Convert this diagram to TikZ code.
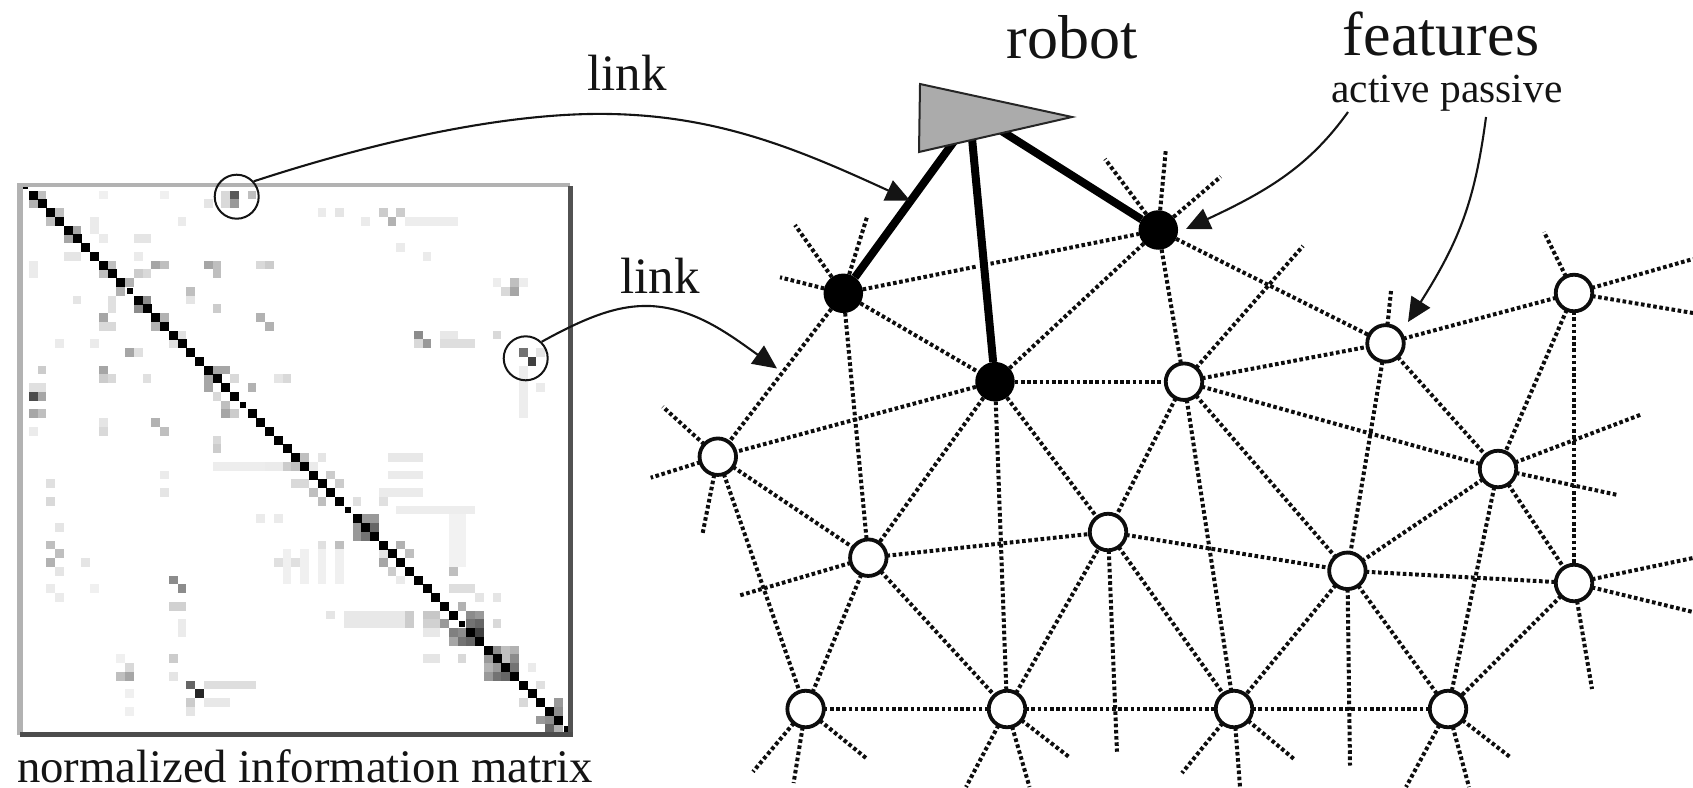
\documentclass[tikz,border=0pt]{standalone}
\usepackage{fontspec}
\setmainfont{Liberation Serif}
\usetikzlibrary{arrows.meta}
\tikzset{
  openf/.style={circle,draw=black!95,line width=3.8pt,fill=white,minimum size=36.5pt,inner sep=0pt,outer sep=0pt},
  activef/.style={circle,fill=black,minimum size=39.5pt,inner sep=0pt,outer sep=0pt},
  dotlink/.style={draw=black!95,line width=4pt,dash pattern=on 3.6pt off 2.6pt},
  robotlink/.style={draw=black,line width=8pt},
  pointer/.style={draw=black!92,line width=2.1pt,-{Triangle[length=24pt,width=22pt]}},
  ring/.style={circle,draw=black!92,line width=2pt,minimum size=44pt,inner sep=0pt},
  lab/.style={anchor=base,inner sep=0pt,text=black!92},
}
\begin{document}
\begin{tikzpicture}[x=1pt,y=-1pt]
\useasboundingbox (0,0) rectangle (1693,787);
\clip (0,0) rectangle (1693,787);
% ---------- matrix: faint ranges c1/c2/r1/r2/g
\foreach \a/\b/\p/\q/\g in {
 43/48/3/3/7, 21/26/31/31/7, 27/32/31/31/8, 41/44/30/30/9, 41/44/32/32/8, 40/44/34/34/8,
 42/50/36/36/7, 48/49/37/42/5, 29/29/41/44/6, 31/31/41/44/6, 33/33/41/44/6, 35/35/41/44/6,
 48/50/45/45/13, 36/42/48/49/9, 20/25/56/56/13, 20/22/58/58/9, 47/50/17/17/13, 47/48/16/16/9,
 56/56/20/25/7, 16/17/47/47/18, 45/46/48/48/22, 45/46/49/49/18, 45/46/50/50/9, 45/46/53/53/10,
 53/53/10/10/7, 56/56/10/10/7
}{
  \fill[black!\g] (33.3+8.75*\a-4.4,195+8.75*\p-4.4) rectangle (33.3+8.75*\b+4.4,195+8.75*\q+4.4);
}
% ---------- matrix: single cells c/r/g
\foreach \a/\p/\g in {
 0/1/30, 1/0/25, 2/3/25, 3/2/25, 4/5/35, 5/4/35, 8/9/25, 9/8/25, 10/11/30, 11/10/30, 12/13/45, 13/12/45,
 14/15/30, 15/14/30, 16/17/12, 17/16/12, 21/20/35, 22/20/35, 20/21/35, 20/22/35, 23/21/15, 25/22/30,
 22/24/25, 22/25/35, 23/25/20, 21/23/15,
 23/0/65, 23/1/40, 22/0/15, 22/1/15, 25/0/25, 20/1/10,
 14/8/35, 15/8/25, 20/8/35, 21/8/25, 21/9/25, 26/8/15, 27/8/20, 12/9/20, 13/9/15,
 8/14/35, 8/15/15, 9/15/15, 26/14/30, 27/15/30,
 1/20/20, 8/20/35, 8/21/20, 9/21/15, 13/21/12, 11/18/35, 12/18/12,
 0/23/70, 1/23/35, 0/22/12, 1/22/12, 0/25/35, 1/25/25,
 14/26/30, 15/27/25, 8/26/10, 8/27/15, 0/27/8,
 18/11/25, 18/12/10, 21/13/20, 5/12/10, 9/12/12, 9/13/12, 3/17/8, 7/17/8, 0/8/8, 0/9/8,
 7/4/8, 8/5/8, 13/5/10, 12/5/10, 4/7/10, 5/7/10, 12/7/8, 8/0/6, 15/0/6, 17/3/8, 7/3/8,
 29/21/15, 28/21/10, 21/28/15, 21/29/20,
 40/2/20, 42/2/20, 41/3/30, 33/2/8, 35/2/10, 38/3/8, 42/6/8, 45/7/8,
 55/10/25, 55/11/35, 54/11/15, 44/16/45, 45/17/40, 44/17/15, 53/16/15,
 56/18/55, 57/19/75, 58/18/10, 58/22/8,
 2/33/12, 2/35/15, 3/38/10, 2/40/25, 3/41/25, 2/42/30, 6/42/10, 3/43/10, 3/46/8, 7/45/6, 2/45/8,
 16/44/45, 17/45/45, 17/49/8, 17/50/8, 16/53/20, 16/55/10,
 11/55/35, 10/55/25, 11/54/15, 10/53/6, 11/57/6, 11/59/6,
 18/56/60, 19/57/85, 18/58/20, 18/59/10,
 15/34/10, 15/32/8, 26/37/8, 28/37/8, 28/42/12, 30/42/12,
 29/31/20, 30/31/25, 31/30/25, 33/30/10, 34/32/20, 35/33/20, 32/34/25, 33/35/25, 30/33/15, 31/33/15, 37/35/12, 40/35/12,
 38/37/40, 39/37/40, 37/38/40, 39/38/60, 37/39/40, 38/39/55,
 35/40/25, 33/40/12, 42/40/30, 43/41/25, 40/42/35, 40/41/10, 41/43/20, 42/44/8, 48/43/25,
 49/47/30, 50/48/45, 51/48/40, 50/49/55, 51/49/60, 48/50/50, 49/50/45, 51/50/75, 48/51/35, 49/51/55, 50/51/60, 47/49/40,
 43/48/20, 43/49/20, 34/48/10, 49/53/15, 53/49/15, 53/46/10, 51/46/10,
 53/52/45, 54/52/25, 55/52/30, 52/53/40, 54/53/25, 55/53/45, 52/54/30, 53/54/40, 55/54/55, 52/55/40, 53/55/55, 54/55/60,
 58/56/12, 56/58/15, 60/58/40, 60/59/45, 58/60/40, 59/60/45, 59/61/60, 60/61/30, 57/54/8
}{
  \fill[black!\g] (33.3+8.75*\a-4.4,195+8.75*\p-4.4) rectangle ++(8.8,8.8);
}
% diagonal
\foreach \i in {0,...,10,12,13,...,23,25,26,...,35,37,38,...,48,50,51,...,60}{
  \fill[black] (33.3+8.75*\i-4.5,195+8.75*\i-4.5) rectangle ++(9,9);
}
\foreach \i in {-1,11,24,36,49,61}{
  \fill[black] (33.3+8.75*\i-3,195+8.75*\i-3) rectangle ++(6,6);
}
% frame
\draw[draw=black!30,line width=6pt] (20,735) -- (20,185);
\draw[draw=black!30,line width=4.5pt] (17,185) -- (570,185);
\draw[draw=black!68,line width=5pt] (570,186) -- (570,735);
\draw[draw=black!70,line width=5pt] (20,734.5) -- (572.5,734.5);

% ---------- rings on the matrix
\node[ring] (ringA) at (236.7,196.7) {};
\node[ring] (ringB) at (525.7,358.3) {};

% ---------- network nodes
\node[activef] (A) at (843.3,293.3) {};
\node[activef] (B) at (995,381.7) {};
\node[activef] (C) at (1158.3,230) {};
\node[openf] (D) at (1184,381.7) {};
\node[openf] (E) at (717.8,456.7) {};
\node[openf] (F) at (868.3,557.7) {};
\node[openf] (G) at (805.6,709) {};
\node[openf] (H) at (1007,709) {};
\node[openf] (I) at (1108,532) {};
\node[openf] (J) at (1385.5,343.4) {};
\node[openf] (K) at (1574,293) {};
\node[openf] (L) at (1498,469) {};
\node[openf] (M) at (1347.4,570.8) {};
\node[openf] (N) at (1574,583) {};
\node[openf] (O) at (1234,709) {};
\node[openf] (P) at (1448,709) {};

% links between features
\foreach \u/\v in {A/B,A/C,A/E,A/F,B/C,B/D,B/E,B/F,B/H,B/I,C/D,C/J,D/I,D/J,D/L,D/M,D/O,
 E/F,E/G,F/G,F/H,F/I,G/H,H/I,H/O,I/M,I/O,J/K,J/L,J/M,K/L,K/N,L/M,L/N,L/P,M/N,M/O,M/P,N/P,O/P}{
  \path[dotlink] (\u) -- (\v);
}
% free ends
\foreach \n/\x/\y in {
 A/795/225, A/867.3/216, A/780/277.3,
 C/1105/159, C/1165.7/150.7, C/1220.7/176.7,
 D/1303/246,
 E/662.7/406.7, E/650.7/477.7, E/702.3/535,
 F/737.8/596,
 G/753/771.7, G/793.6/783, G/866/758,
 H/966/787, H/1029.5/787, H/1070/757.7,
 I/1117/751.7,
 J/1391/291,
 K/1544/232, K/1693/259, K/1693/313,
 L/1642.5/414, L/1617.6/495,
 M/1350/765.5,
 N/1693/558, N/1693/612, N/1592/689,
 O/1182/773, O/1240/787, O/1294/759,
 P/1406/787, P/1469/787, P/1510/757}{
  \coordinate (free) at (\x,\y);
  \path[dotlink] (\n) -- (free);
}

% ---------- robot
\coordinate (tl) at (920,84);
\coordinate (tr) at (1072,117);
\coordinate (tb) at (919,152);
\coordinate (ra) at (955,140);
\coordinate (rb) at (971.7,135);
\coordinate (rc) at (1000,130);
\path[robotlink] (ra) -- (A);
\path[robotlink,preaction={draw=white,line width=13pt,shorten >=30pt}] (rb) -- (B);
\path[robotlink] (rc) -- (C);
\filldraw[fill=black!33,draw=black!85,line width=2pt,line join=miter] (tl) -- (tr) -- (tb) -- cycle;

% ---------- pointers
\coordinate (linkmid) at (610,114);
\coordinate (tipA) at (910,200.5);
\coordinate (linkmidb) at (650,306);
\coordinate (tipB) at (777,368.5);
\coordinate (srcC) at (1348,112);
\coordinate (tipC) at (1186,229);
\coordinate (srcD) at (1486,117);
\coordinate (tipD) at (1408,322);
\draw[pointer] (ringA.42) .. controls (380,140) and (510,112) .. (linkmid) .. controls (720,116) and (800,150) .. (tipA);
\draw[pointer] (ringB.46) .. controls (590,315) and (620,305) .. (linkmidb) .. controls (695,308) and (730,335) .. (tipB);
\draw[pointer] (srcC) .. controls (1310,165) and (1270,190) .. (tipC);
\draw[pointer] (srcD) .. controls (1475,200) and (1460,240) .. (tipD);

% ---------- labels
\node[lab,font=\fontsize{62}{62}\selectfont] (robotlab) at (1072,58) {robot};
\node[lab,font=\fontsize{62}{62}\selectfont] (featlab) at (1441,55) {features};
\node[lab,font=\fontsize{41.4}{42}\selectfont] (aplab) at (1447,102.5) {active passive};
\node[lab,font=\fontsize{51}{51}\selectfont] (linklabA) at (627,90) {link};
\node[lab,font=\fontsize{51}{51}\selectfont] (linklabB) at (660,293) {link};
\node[lab,font=\fontsize{46.7}{47}\selectfont] (matlab) at (305,782) {normalized information matrix};
\end{tikzpicture}
\end{document}
